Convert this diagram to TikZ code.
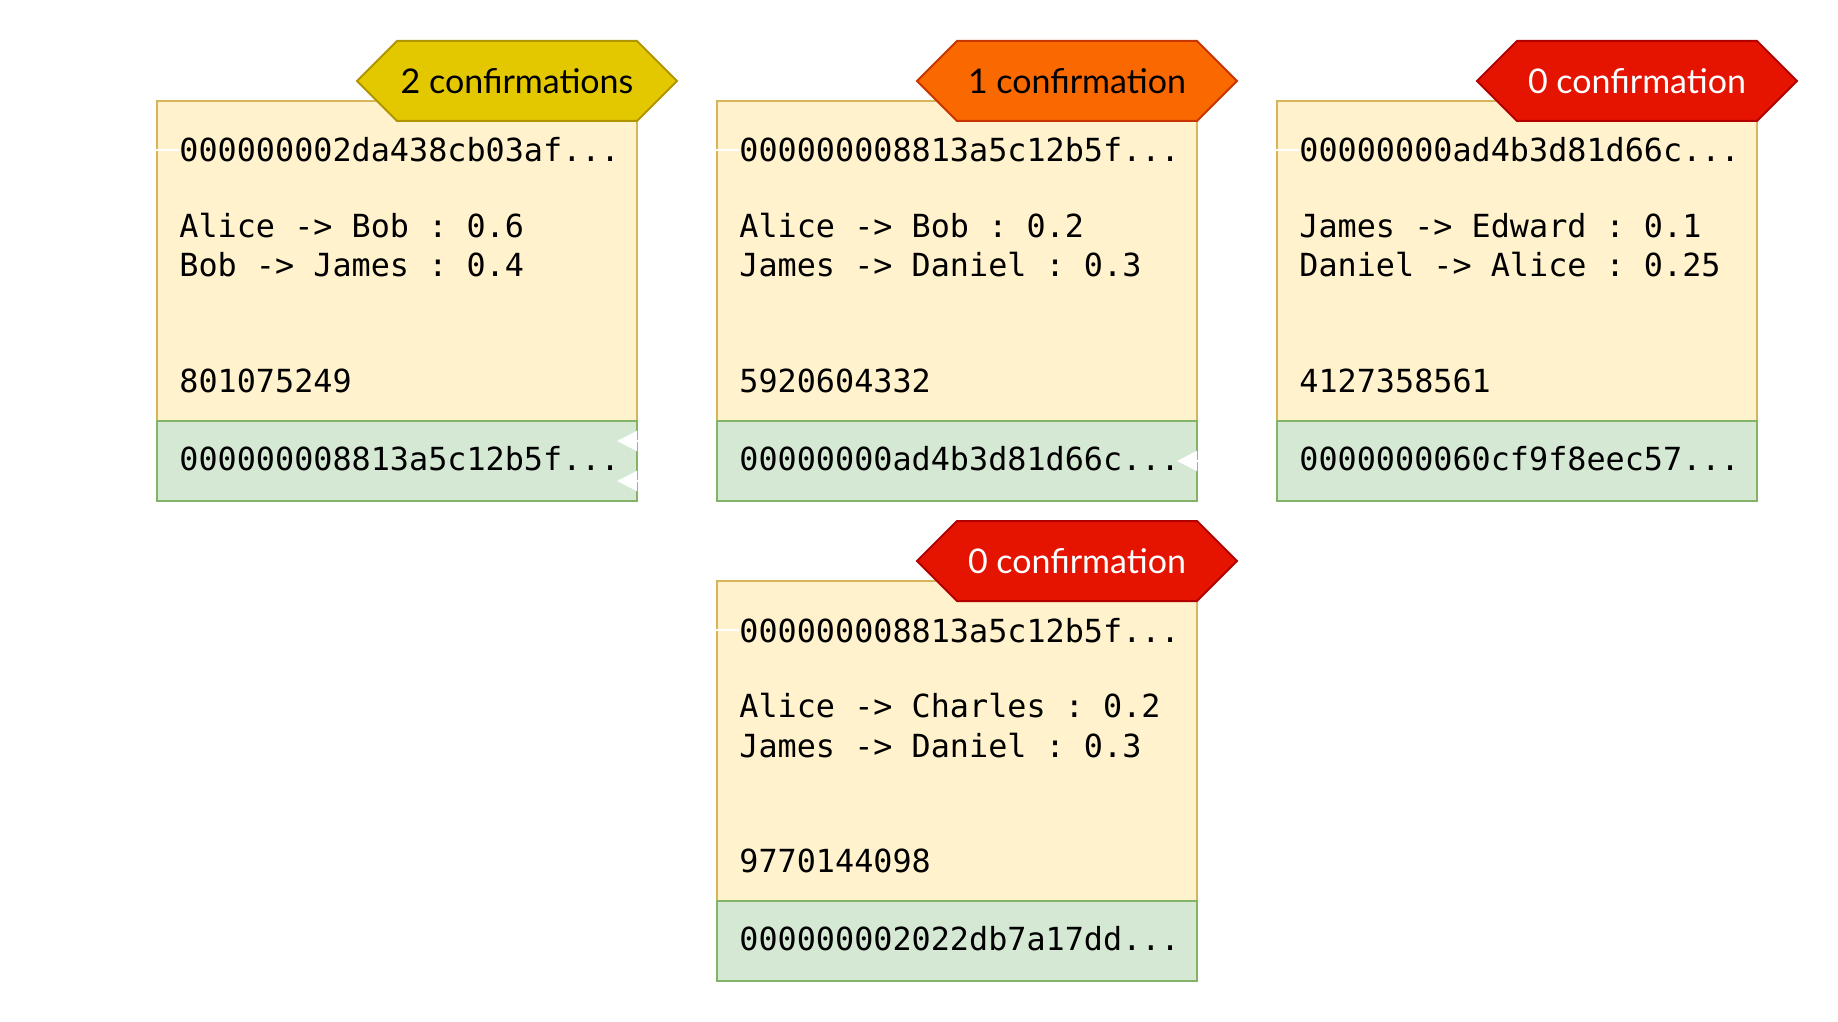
\documentclass[tikz,border=0pt]{standalone}
\usepackage{fontspec}
\setmonofont{DejaVu Sans Mono}
\newfontfamily\badgefont{Lato}
\usepackage{tikz}
\usetikzlibrary{positioning}
\usetikzlibrary{shapes.symbols}
\usetikzlibrary{arrows.meta}
\usetikzlibrary{calc}

\definecolor{hdrfill}{HTML}{FFF2CC}
\definecolor{hdrline}{HTML}{D6B656}
\definecolor{ftrfill}{HTML}{D5E8D4}
\definecolor{ftrline}{HTML}{82B366}
\definecolor{twofill}{HTML}{E3C800}
\definecolor{twoline}{HTML}{B09500}
\definecolor{onefill}{HTML}{FA6800}
\definecolor{oneline}{HTML}{C73500}
\definecolor{zerofill}{HTML}{E51400}
\definecolor{zeroline}{HTML}{B20000}

\begin{document}
\begin{tikzpicture}[x=0.5pt, y=-0.5pt,
    header/.style={draw=hdrline, fill=hdrfill, rectangle, line width=1pt,
        minimum width=240pt, minimum height=160pt, inner sep=0pt, outer sep=0pt,
        anchor=north west},
    footer/.style={draw=ftrline, fill=ftrfill, rectangle, line width=1pt,
        minimum width=240pt, minimum height=40pt, inner sep=0pt, outer sep=0pt},
    badge/.style={signal, signal to=east and west, signal pointer angle=90, line width=1pt,
        minimum width=160pt, minimum height=40pt, inner sep=0pt,
        font=\badgefont\fontsize{17}{20}\selectfont},
    mono/.style={anchor=base west, inner sep=0pt, font=\ttfamily\fontsize{15.9}{20}\selectfont},
    link/.style={draw=white, line width=1pt, -{Triangle[length=10pt, width=10pt, fill=white]}},
    stub/.style={draw=white, line width=1pt}
    ]

    \useasboundingbox (0,0) rectangle (1838,1022);

    % block 1
    \node[header] (head1) at (157,101) {};
    \node[footer, below=0pt of head1] (foot1) {};
    \node[badge, fill=twofill, draw=twoline] (conf1) at (517,81) {2 confirmations};
    \node[mono] (hash1) at (179,162) {000000002da438cb03af...};
    \node[mono] (txa1) at (179,237) {Alice -> Bob : 0.6};
    \node[mono] (txb1) at (179,277) {Bob -> James : 0.4};
    \node[mono] (nonce1) at (179,392) {801075249};
    \node[mono] (next1) at (179,470) {000000008813a5c12b5f...};

    % block 2
    \node[header] (head2) at (717,101) {};
    \node[footer, below=0pt of head2] (foot2) {};
    \node[badge, fill=onefill, draw=oneline] (conf2) at (1077,81) {1 confirmation};
    \node[mono] (hash2) at (739,162) {000000008813a5c12b5f...};
    \node[mono] (txa2) at (739,237) {Alice -> Bob : 0.2};
    \node[mono] (txb2) at (739,277) {James -> Daniel : 0.3};
    \node[mono] (nonce2) at (739,392) {5920604332};
    \node[mono] (next2) at (739,470) {00000000ad4b3d81d66c...};

    % block 3
    \node[header] (head3) at (1277,101) {};
    \node[footer, below=0pt of head3] (foot3) {};
    \node[badge, fill=zerofill, draw=zeroline, text=white] (conf3) at (1637,81) {0 confirmation};
    \node[mono] (hash3) at (1299,162) {00000000ad4b3d81d66c...};
    \node[mono] (txa3) at (1299,237) {James -> Edward : 0.1};
    \node[mono] (txb3) at (1299,277) {Daniel -> Alice : 0.25};
    \node[mono] (nonce3) at (1299,392) {4127358561};
    \node[mono] (next3) at (1299,470) {0000000060cf9f8eec57...};

    % block 4 (fork)
    \node[header] (head4) at (717,581) {};
    \node[footer, below=0pt of head4] (foot4) {};
    \node[badge, fill=zerofill, draw=zeroline, text=white] (conf4) at (1077,561) {0 confirmation};
    \node[mono] (hash4) at (739,642) {000000008813a5c12b5f...};
    \node[mono] (txa4) at (739,717) {Alice -> Charles : 0.2};
    \node[mono] (txb4) at (739,757) {James -> Daniel : 0.3};
    \node[mono] (nonce4) at (739,872) {9770144098};
    \node[mono] (next4) at (739,950) {000000002022db7a17dd...};

    % links (white)
    \coordinate (prev0) at ($(hash1.west)+(-40,0)$);
    \coordinate (tip1a) at ($(foot1.east)+(-20,-20)$);
    \coordinate (tip1b) at ($(foot1.east)+(-20,20)$);
    \coordinate (tip2) at ($(foot2.east)+(-20,0)$);

    \draw[stub] (hash1.west) -- (prev0);
    \draw[link] (hash2.west) -- ++(-56,0) |- (tip1a);
    \draw[link] (hash4.west) -- ++(-56,0) |- (tip1b);
    \draw[link] (hash3.west) -- ++(-56,0) |- (tip2);

\end{tikzpicture}
\end{document}
